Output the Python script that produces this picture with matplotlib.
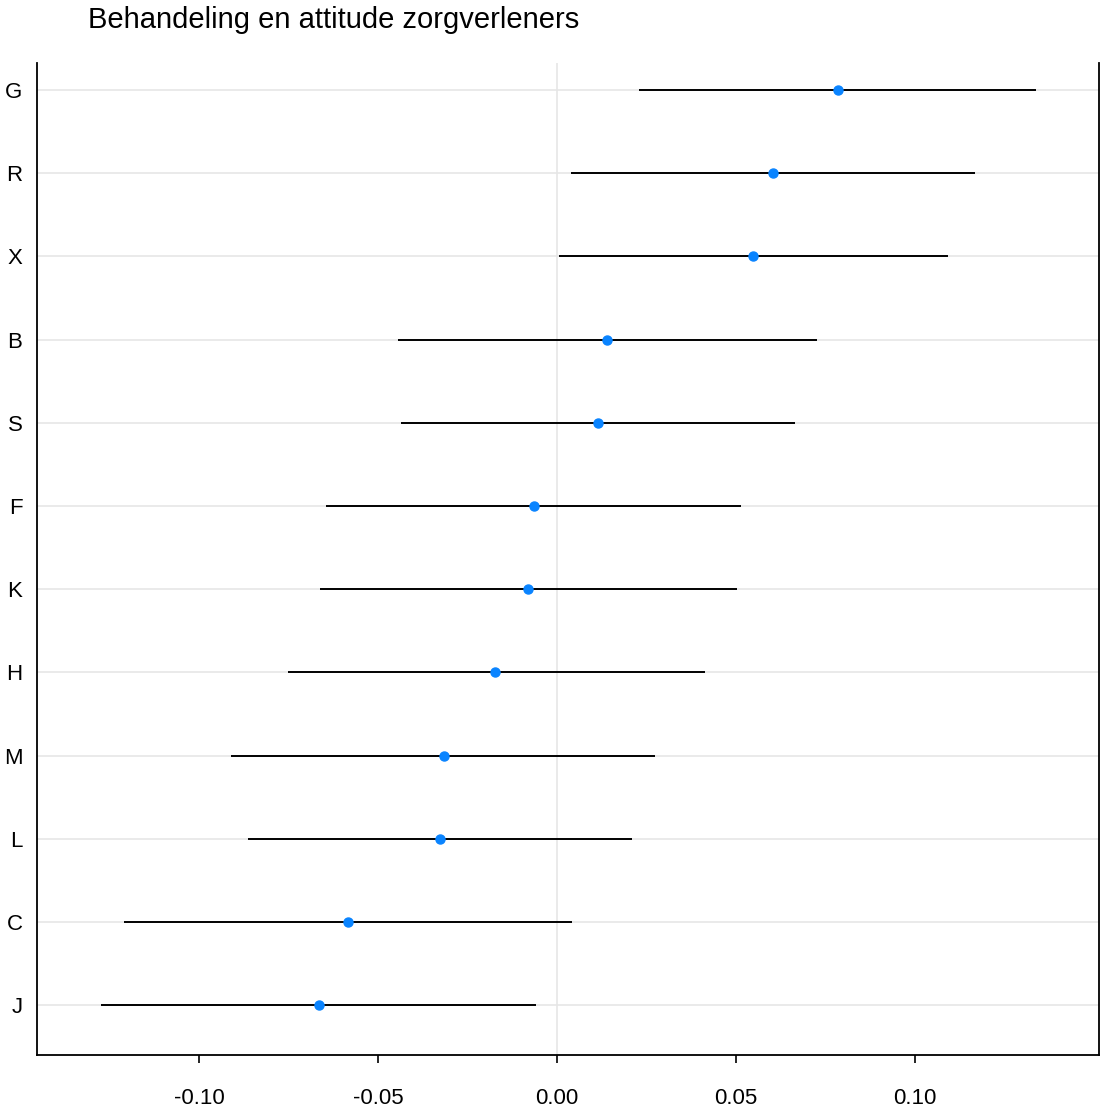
import matplotlib
matplotlib.use("Agg")
import matplotlib.pyplot as plt

plt.rcParams['font.family'] = ['Liberation Sans', 'DejaVu Sans']

labels = ["G", "R", "X", "B", "S", "F", "K", "H", "M", "L", "C", "J"]
estimate = [0.0785, 0.0603, 0.0547, 0.0140, 0.0115, -0.0064, -0.0081, -0.0173, -0.0316, -0.0327, -0.0584, -0.0664]
lower = [0.0229, 0.0039, 0.0006, -0.0444, -0.0436, -0.0645, -0.0662, -0.0751, -0.0911, -0.0863, -0.1209, -0.1275]
upper = [0.1338, 0.1168, 0.1092, 0.0726, 0.0665, 0.0514, 0.0503, 0.0413, 0.0274, 0.0209, 0.0042, -0.0059]
xticks = [-0.10, -0.05, 0.00, 0.05, 0.10]
xticklabels = ["-0.10", "-0.05", "0.00", "0.05", "0.10"]

n = len(labels)
ypos = [n - 1 - i for i in range(n)]

fig = plt.figure(figsize=(11.01, 11.11), dpi=100)
ax = fig.add_axes([37/1101, 1 - 1055/1111, (1099 - 37)/1101, (1055 - 63)/1111])

for y in ypos:
    ax.axhline(y, color='#e6e6e6', lw=1.2, zorder=0)
ax.axvline(0, color='#e6e6e6', lw=1.2, zorder=0)

ax.hlines(ypos, lower, upper, color='black', lw=1.4, zorder=2)
ax.plot(estimate, ypos, 'o', color='#0a84ff', ms=6.5, mec='#0a84ff', zorder=3)

ax.set_xlim(-0.1453, 0.1514)
ax.set_ylim(-0.6, n - 1 + 0.325)
ax.set_yticks(ypos)
ax.set_yticklabels(labels, fontsize=16)
ax.set_xticks(xticks)
ax.set_xticklabels(xticklabels, fontsize=16)
ax.tick_params(axis='y', length=0, pad=10.5)
ax.tick_params(axis='x', length=6, width=1.2, pad=18, direction='out')
ax.spines['top'].set_visible(False)
for s in ['left', 'right', 'bottom']:
    ax.spines[s].set_linewidth(1.3)
    ax.spines[s].set_color('black')

fig.text(88/1101, 1 - 20/1111, "Behandeling en attitude zorgverleners", fontsize=21, ha='left', va='center')

fig.savefig("out.png", dpi=100)
